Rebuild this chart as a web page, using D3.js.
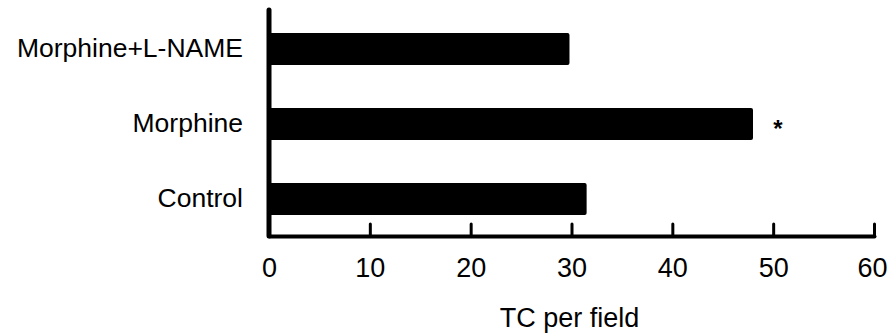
<!DOCTYPE html>
<html>
<head>
<meta charset="utf-8">
<script src="https://cdn.jsdelivr.net/npm/d3@7"></script>
<style>
  body { margin: 0; background: #fff; }
  svg text { font-family: "Liberation Sans", Arial, sans-serif; fill: #000; }
</style>
</head>
<body>
<div id="chart"></div>
<script>
// --- data ---
const groups = ["Morphine+L-NAME", "Morphine", "Control"];
const tcPerField = [29.8, 48, 31.5];
const significance = ["", "*", ""];
const xTicks = [0, 10, 20, 30, 40, 50, 60];
const xTitle = "TC per field";

const W = 892, H = 335;
const svg = d3.select("#chart").append("svg")
  .attr("width", W).attr("height", H);

const x = d3.scaleLinear().domain([0, 60]).range([269, 874]);
const y = d3.scaleBand().domain(groups).range([11.5, 236.5])
  .paddingInner(0.573).paddingOuter(0.2865);

// bars
svg.selectAll("rect.bar")
  .data(groups)
  .enter().append("rect")
  .attr("class", "bar")
  .attr("x", x(0))
  .attr("y", d => y(d))
  .attr("width", (d, i) => x(tcPerField[i]) - x(0))
  .attr("height", y.bandwidth())
  .attr("rx", 2)
  .attr("fill", "#000");

// significance marks
svg.selectAll("text.sig")
  .data(groups)
  .enter().append("text")
  .attr("class", "sig")
  .attr("x", (d, i) => x(tcPerField[i]) + 25)
  .attr("y", d => y(d) + y.bandwidth() / 2 + 13)
  .attr("text-anchor", "middle")
  .style("font-size", "24px")
  .style("font-weight", "bold")
  .text((d, i) => significance[i]);

// x axis: thick baseline with inward ticks
const xAxis = svg.append("g")
  .attr("transform", `translate(0,236)`)
  .call(d3.axisBottom(x).tickValues(xTicks).tickSize(-12).tickPadding(24).tickSizeOuter(0));
xAxis.select(".domain").attr("stroke", "#000").attr("stroke-width", 4)
  .attr("stroke-linecap", "round");
xAxis.selectAll(".tick line").attr("stroke-width", 3).attr("stroke-linecap", "round");
xAxis.selectAll(".tick").filter(d => d === 0).select("line").remove();
xAxis.selectAll(".tick text")
  .attr("dy", "0.62em")
  .style("font-size", "27px")
  .style("font-family", "'Liberation Sans', Arial, sans-serif");
xAxis.selectAll(".tick").filter(d => d === 60).select("text").attr("dx", -2);

// y axis
const yAxis = svg.append("g")
  .attr("transform", `translate(269,0)`)
  .call(d3.axisLeft(y).tickSize(0).tickPadding(26).tickSizeOuter(0));
yAxis.select(".domain").remove();
yAxis.append("line")
  .attr("x1", 0).attr("x2", 0)
  .attr("y1", 10).attr("y2", 236)
  .attr("stroke", "#000").attr("stroke-width", 5)
  .attr("stroke-linecap", "round");
yAxis.selectAll(".tick text")
  .style("font-size", "26.5px")
  .style("font-family", "'Liberation Sans', Arial, sans-serif");

// axis title
svg.append("text")
  .attr("x", (x(0) + x(60)) / 2 - 2)
  .attr("y", 327)
  .attr("text-anchor", "middle")
  .style("font-size", "27px")
  .text(xTitle);
</script>
</body>
</html>
